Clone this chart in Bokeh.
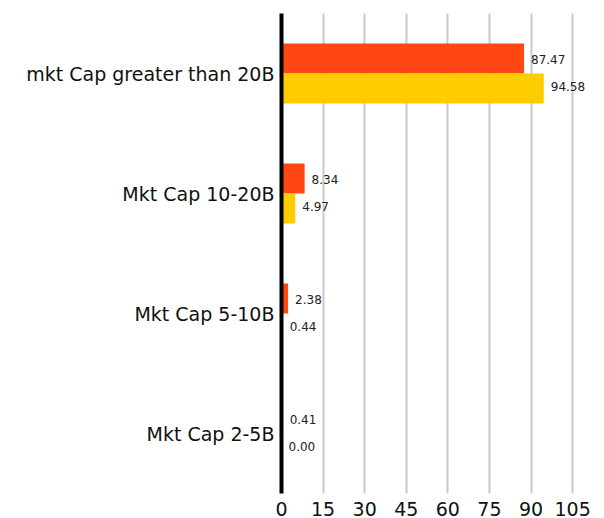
from bokeh.plotting import figure
from bokeh.models import ColumnDataSource, Range1d, FactorRange
from bokeh.transform import dodge
from bokeh.core.properties import value
from bokeh.embed import file_html
from bokeh.resources import INLINE

categories = ["mkt Cap greater than 20B", "Mkt Cap 10-20B", "Mkt Cap 5-10B", "Mkt Cap 2-5B"]
series_a = [87.47, 8.34, 2.38, 0.41]
series_b = [94.58, 4.97, 0.44, 0.00]
x_ticks = [0, 15, 30, 45, 60, 75, 90, 105]

FONT = "DejaVu Sans"

src = ColumnDataSource(data=dict(
    cat=categories,
    a=series_a,
    b=series_b,
    a_lbl=[f"{v:.2f}" for v in series_a],
    b_lbl=[f"{v:.2f}" for v in series_b],
))

p = figure(width=604, height=518, output_backend="svg", toolbar_location=None,
           y_range=FactorRange(*list(reversed(categories)), range_padding=0),
           x_range=Range1d(0, 110))
p.min_border_left = 281
p.min_border_right = 18
p.min_border_top = 13
p.min_border_bottom = 25
p.outline_line_color = None
p.background_fill_color = "white"
p.border_fill_color = "white"

p.hbar(y=dodge("cat", 0.125, range=p.y_range), right="a", height=0.25, left=0,
       source=src, color="#FF4713", line_color=None)
p.hbar(y=dodge("cat", -0.125, range=p.y_range), right="b", height=0.25, left=0,
       source=src, color="#FFCC00", line_color=None)

p.text(x="a", y=dodge("cat", 0.12, range=p.y_range), text="a_lbl", source=src,
       x_offset=7, text_baseline="middle", text_align="left",
       text_font=value(FONT), text_font_size="12px", text_color="#222222")
p.text(x="b", y=dodge("cat", -0.11, range=p.y_range), text="b_lbl", source=src,
       x_offset=7, text_baseline="middle", text_align="left",
       text_font=value(FONT), text_font_size="12px", text_color="#222222")

# x axis
p.xaxis.ticker = x_ticks
p.xaxis.axis_line_color = None
p.xaxis.major_tick_line_color = None
p.xaxis.minor_tick_line_color = None
p.xaxis.major_label_text_font = FONT
p.xaxis.major_label_text_font_size = "19px"
p.xaxis.major_label_text_color = "#111111"
p.xaxis.major_label_standoff = 2

# y axis
p.yaxis.axis_line_color = "black"
p.yaxis.axis_line_width = 4
p.yaxis.major_tick_line_color = None
p.yaxis.minor_tick_line_color = None
p.yaxis.major_label_text_font = FONT
p.yaxis.major_label_text_font_size = "19px"
p.yaxis.major_label_text_color = "#111111"
p.yaxis.major_label_standoff = 1

p.xgrid.ticker = x_ticks
p.xgrid.grid_line_color = "#c8c8c8"
p.xgrid.grid_line_width = 2
p.ygrid.grid_line_color = None

open("out.html", "w").write(file_html(p, INLINE))
